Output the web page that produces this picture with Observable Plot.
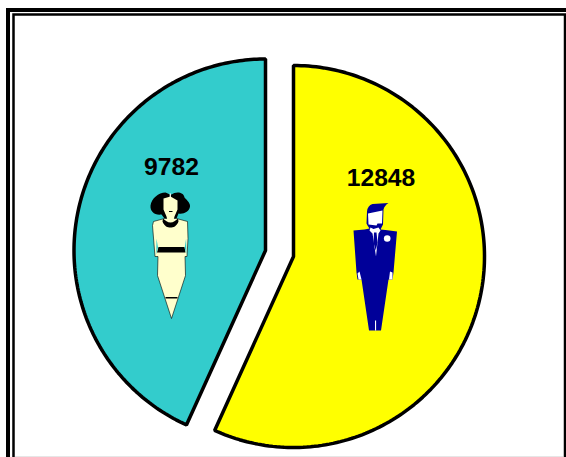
<!DOCTYPE html>
<html><head><meta charset="utf-8">
<style>html,body{margin:0;padding:0;background:#fff}svg{display:block}</style>
<script src="https://cdn.jsdelivr.net/npm/d3@7"></script>
<script src="https://cdn.jsdelivr.net/npm/@observablehq/plot@0.6"></script>
</head><body><script>
const groups = ["men", "women"];
const counts = [12848, 9782];
const fills = ["#ffff00", "#33cccc"];
const centers = [[293, 256], [265, 250]];
const radii = [191, 191.5];
const labelPositions = [[380.5, 178], [171, 167]];

const manSvg = `<svg xmlns="http://www.w3.org/2000/svg" viewBox="330 160 100 180" width="100" height="180">
<path fill="#000099" d="M366 223 L366.500 211 Q367 205 372 203.500 L388 202.500 Q384 205 383 209 L382.500 224 L380 229 L385 229.500 L396.500 231 L393 272 L392 279 L388 279 L380.500 330 L368.500 330 L361 279 L357 279 L356 272 L353 230 L364 229 L369 228 L367 225Z"/>
<path fill="#fff" d="M367.500 213 L382 210 L381.500 223 L377 223 L376 225 L372 224.500 L368 224Z"/>
<path fill="#fff" d="M370 227 L373 228.500 L378 227 L380 230 L378 233 L375.500 256 L372 233 L369 230Z"/>
<path fill="#000099" d="M373.500 232 H376 L377 242 L375.300 250 L373 242Z"/>
<circle cx="386.700" cy="238" r="3.300" fill="#fff"/>
<path fill="#fff" d="M357 273 L359 271 L361 279 L358 279Z M389.500 271 L392 272 L392 279 L388.500 279Z M374.500 320 H375.600 V330 H374.500Z"/>
</svg>`;
const womanSvg = `<svg xmlns="http://www.w3.org/2000/svg" viewBox="130 150 100 180" width="100" height="180">
<path fill="#000" d="M150 205 C151 198 158 192 165 192 L169.500 194 L171 194 C175 191 183 191 184 197 C187 200 190 203 189.500 206 C189 211 183 214 178 213 L176 218 L164 218 L161 214 C154 215 149.500 211 150 205Z"/>
<path fill="#ffffcc" stroke="#000" stroke-width=".6" d="M153 221 L164 218 L176 218 L187 221 L187.500 238 L186.500 256 L184.500 256 L185 275 L171 318 L157 275 L157.500 256 L154.500 256 L152 225Z"/>
<path fill="#ffffcc" d="M163 198 L170 196 L177 200 L177 209 L174 216 L173 220 L167 220 L166 216 L163 209Z"/>
<path fill="#fff" d="M169.200 193 H170.400 V197 H169.200Z"/>
<path fill="#000" d="M162.500 218 C165 220 167 222 170 222 C173 222 175 220 177.500 218 L178 221 C176 226 173 227 170 227 C167 227 164 226 162 221Z"/>
<path fill="#000" d="M158 246.500 H184 L185 252 H156.500Z M165 296.500 H177 V298 H165Z M168.500 210.500 H172 V211.500 H168.500Z"/>
<path fill="#33cccc" d="M156 238 L157.500 247 L155.800 254Z M185.600 238 L184.200 247 L186 254Z"/>
</svg>`;
const figures = [
  {src: manSvg, x: 380, y: 250},
  {src: womanSvg, x: 180, y: 240}
].map((d) => ({...d, src: "data:image/svg+xml;utf8," + encodeURIComponent(d.src)}));

const pie = d3.pie().sort(null).value((d) => d)(counts);
function wedge(i) {
  const [cx, cy] = centers[i], r = radii[i], {startAngle: a0, endAngle: a1} = pie[i];
  const arcs = d3.range(0, 181).map((k) => {
    const a = a0 + (a1 - a0) * k / 180;
    return {x: cx + r * Math.sin(a), y: cy - r * Math.cos(a)};
  });
  return [{x: cx, y: cy}, ...arcs];
}

const plot = Plot.plot({
  width: 566, height: 457, margin: 0,
  x: {domain: [0, 566], range: [0, 566], axis: null},
  y: {domain: [0, 457], range: [0, 457], axis: null},
  marks: [
    Plot.rect([{}], {x1: () => 8, x2: () => 620, y1: () => 10, y2: () => 500, fill: "none", stroke: "#000", strokeWidth: 4}),
    Plot.rect([{}], {x1: () => 13.5, x2: () => 565, y1: () => 14.5, y2: () => 500, fill: "none", stroke: "#000", strokeWidth: 2.5}),
    Plot.ruleY([456.5], {x1: 15, x2: 563, stroke: "#cccccc", strokeWidth: 1}),
    ...groups.map((g, i) => Plot.line(wedge(i), {x: "x", y: "y", fill: fills[i], stroke: "#000", strokeWidth: 3.5, strokeLinejoin: "miter", curve: "linear-closed"})),
    Plot.image(figures, {x: "x", y: "y", src: "src", width: 100, height: 180}),
    Plot.text(counts, {
      x: (d, i) => labelPositions[i][0], y: (d, i) => labelPositions[i][1], text: (d) => String(d),
      fontFamily: "Liberation Sans", fontWeight: "bold", fontSize: 24.7, fill: "#000"
    })
  ]
});
document.body.append(plot);
</script></body></html>
